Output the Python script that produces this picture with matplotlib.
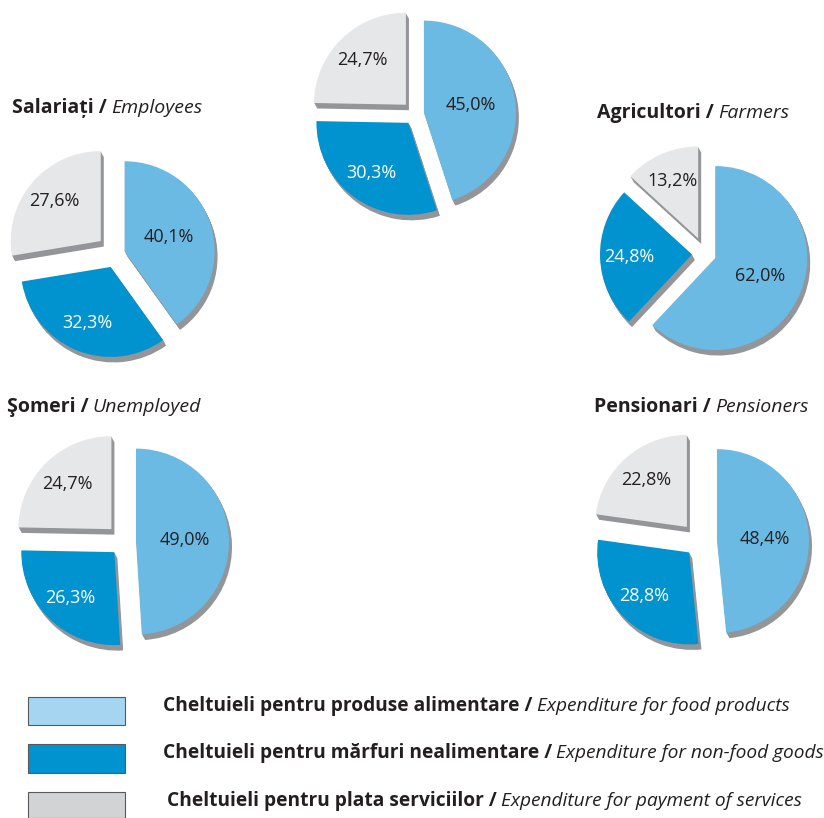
import matplotlib
matplotlib.use("Agg")
import numpy as np
import matplotlib.pyplot as plt

# ---------------- data ----------------
groups_ro = ["", "Salariați", "Agricultori", "Şomeri", "Pensionari"]
groups_en = ["", "Employees", "Farmers", "Unemployed", "Pensioners"]
food = [45.0, 40.1, 62.0, 49.0, 48.4]
nonfood = [30.3, 32.3, 24.8, 26.3, 28.8]
services = [24.7, 27.6, 13.2, 24.7, 22.8]

legend_ro = ["Cheltuieli pentru produse alimentare",
             "Cheltuieli pentru mărfuri nealimentare",
             "Cheltuieli pentru plata serviciilor"]
legend_en = ["Expenditure for food products",
             "Expenditure for non-food goods",
             "Expenditure for payment of services"]

# ---------------- style ----------------
W, H = 824, 818
slice_colors = ["#6BBAE4", "#0093D0", "#E6E7E8"]
legend_colors = ["#A6D5F1", "#0093D0", "#D1D3D4"]
label_colors = ["#231F20", "white", "#231F20"]
shadow_color = "#939598"
FONT = "Open Sans"

# pie centres (pixels from top-left), radius, per-slice explode (pixels)
centers = [(415, 114), (116, 254), (705, 254), (124, 542), (700, 542)]
radii = [92, 90, 92, 93, 92]
explodes = [[9, 11, 13], [9, 14, 20], [11, 13, 17], [12, 14, 18], [17, 15, 20]]
label_frac = [0.52, 0.68, 0.68]
title_pos = [None, (12, 113), (597, 118), (7, 412), (594, 412)]

fig = plt.figure(figsize=(W / 100, H / 100), dpi=100)
ax = fig.add_axes([0, 0, 1, 1])
renderer = fig.canvas.get_renderer()


def fmt(p):
    return f"{p:.1f}%".replace(".", ",")


for i in range(len(food)):
    vals = [food[i], nonfood[i], services[i]]
    cx, cy = centers[i]
    r = radii[i]
    ex = explodes[i]
    # extruded shadow
    for k in range(1, 6):
        ax.pie(vals, radius=r, center=(cx + 0.6 * k, H - cy - 1.1 * k),
               startangle=90, counterclock=False, explode=ex,
               colors=[shadow_color] * 3, wedgeprops=dict(linewidth=0))
    wedges, texts, autotexts = ax.pie(
        vals, radius=r, center=(cx, H - cy), startangle=90,
        counterclock=False, explode=ex, colors=slice_colors,
        wedgeprops=dict(linewidth=0),
        autopct=lambda p: fmt(p), pctdistance=0.6)
    for w, t, c, f in zip(wedges, autotexts, label_colors, label_frac):
        mid = np.deg2rad((w.theta1 + w.theta2) / 2)
        wx, wy = w.center
        t.set_position((wx + f * w.r * np.cos(mid), wy + f * w.r * np.sin(mid)))
        t.set_color(c)
        t.set_fontsize(13)
        t.set_family(FONT)

ax.set_xlim(0, W)
ax.set_ylim(0, H)
ax.set_aspect("equal")
ax.axis("off")


def mixed(x, y_px, bold, ital, size):
    t = ax.text(x, H - y_px, bold + " /", fontsize=size, fontweight="bold",
                family=FONT, color="#231F20", ha="left", va="baseline")
    bb = t.get_window_extent(renderer)
    ax.text(bb.x1 + size * 0.3, H - y_px, ital, fontsize=size,
            style="italic", family=FONT, color="#231F20",
            ha="left", va="baseline")


for i in range(1, len(food)):
    x, y = title_pos[i]
    mixed(x, y, groups_ro[i], groups_en[i], 14)

# legend
box_y = [(697, 725), (744, 773), (792, 818)]
text_y = [711, 758, 806]
text_x = [163, 163, 167]
for j in range(3):
    y0, y1 = box_y[j]
    ax.add_patch(plt.Rectangle((28, H - y1), 97, y1 - y0,
                               facecolor=legend_colors[j],
                               edgecolor="#58595B", linewidth=0.8))
    mixed(text_x[j], text_y[j], legend_ro[j], legend_en[j], 13.8)

fig.savefig("out.png", dpi=100)
